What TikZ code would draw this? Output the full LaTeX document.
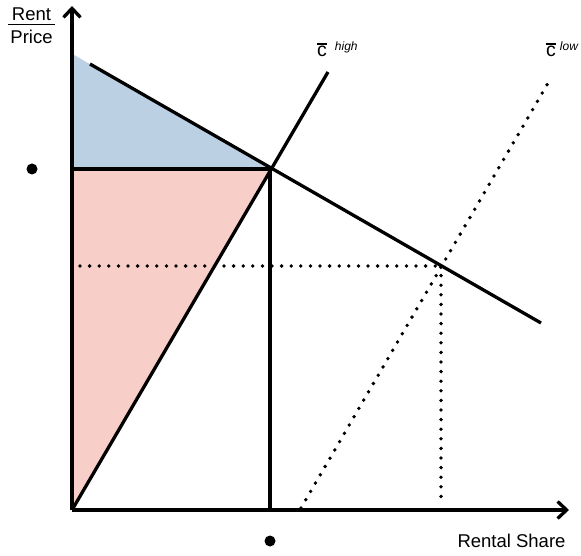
\documentclass[tikz,border=0pt]{standalone}
\usepackage{fontspec}
\setmainfont{Liberation Sans}
\usetikzlibrary{arrows.meta}
\definecolor{fillblue}{RGB}{188,208,228}
\definecolor{fillred}{RGB}{248,206,200}
\newcommand{\cbar}{{\rlap{\raisebox{0.62em}{\rule{0.5em}{1.7pt}}}c}}
\tikzset{
  axis/.style={line width=3.3pt,-{Straight Barb[length=9pt,width=17pt,line width=3.3pt]}},
  curve/.style={line width=3.3pt},
  dotline/.style={line width=3.8pt,line cap=round,dash pattern=on 0pt off 9.6pt},
  lbl/.style={inner sep=0pt,font=\fontsize{18.5}{21}\selectfont},
  clbl/.style={inner sep=0pt,anchor=base west,font=\fontsize{19.5}{21}\selectfont},
  dotmark/.style={circle,fill=black,inner sep=0pt,minimum size=11pt}
}
\begin{document}
\begin{tikzpicture}[x=1pt,y=-1pt]
\useasboundingbox (0,0) rectangle (581,556);
% key points
\coordinate (O) at (72,510);
\coordinate (Ytop) at (72,6);
\coordinate (Xend) at (569,510);
\coordinate (Dstart) at (90,64);
\coordinate (Dax) at (72,53.7);
\coordinate (E) at (270,169);
\coordinate (Dend) at (541,323);
\coordinate (Hax) at (72,169);
\coordinate (Chigh) at (328,72);
\coordinate (Vbot) at (270,510);
\coordinate (Lstart) at (301,508);
\coordinate (Lend) at (551,78);
\coordinate (F) at (441,266);
\coordinate (Fax) at (80,266);
\coordinate (Fbot) at (441,505);
% fills
\fill[fillblue] (Dax) -- (E) -- (Hax) -- cycle;
\fill[fillred] (Hax) -- (E) -- (O) -- cycle;
% dotted lines
\draw[dotline] (Fax) -- (F);
\draw[dotline] (F) -- (Fbot);
\draw[dotline] (Lstart) -- (Lend);
% solid lines
\draw[curve] (Dstart) -- (Dend);
\draw[curve] (O) -- (Chigh);
\draw[curve] (Hax) -- (E);
\draw[curve] (E) -- (Vbot);
% axes
\draw[axis] (O) -- (Ytop);
\draw[axis] (O) -- (Xend);
% labels
\node[lbl] (rent) at (31.5,14) {Rent};
\node[lbl] (price) at (31.5,37) {Price};
\coordinate (fracL) at (8,24.5);
\coordinate (fracR) at (55,24.5);
\draw[line width=1.6pt] (fracL) -- (fracR);
\node[clbl] (chigh) at (317,57) {\cbar\hspace{8pt}\raisebox{6pt}{\fontsize{12}{12}\selectfont\itshape high}};
\node[clbl] (clow) at (546,57) {\cbar\hspace{4pt}\raisebox{6pt}{\fontsize{12}{12}\selectfont\itshape low}};
\node[lbl] (xlabel) at (511.5,541) {Rental Share};
\node[dotmark] (pdot) at (32,169) {};
\node[dotmark] (sdot) at (270,541) {};
\end{tikzpicture}
\end{document}
